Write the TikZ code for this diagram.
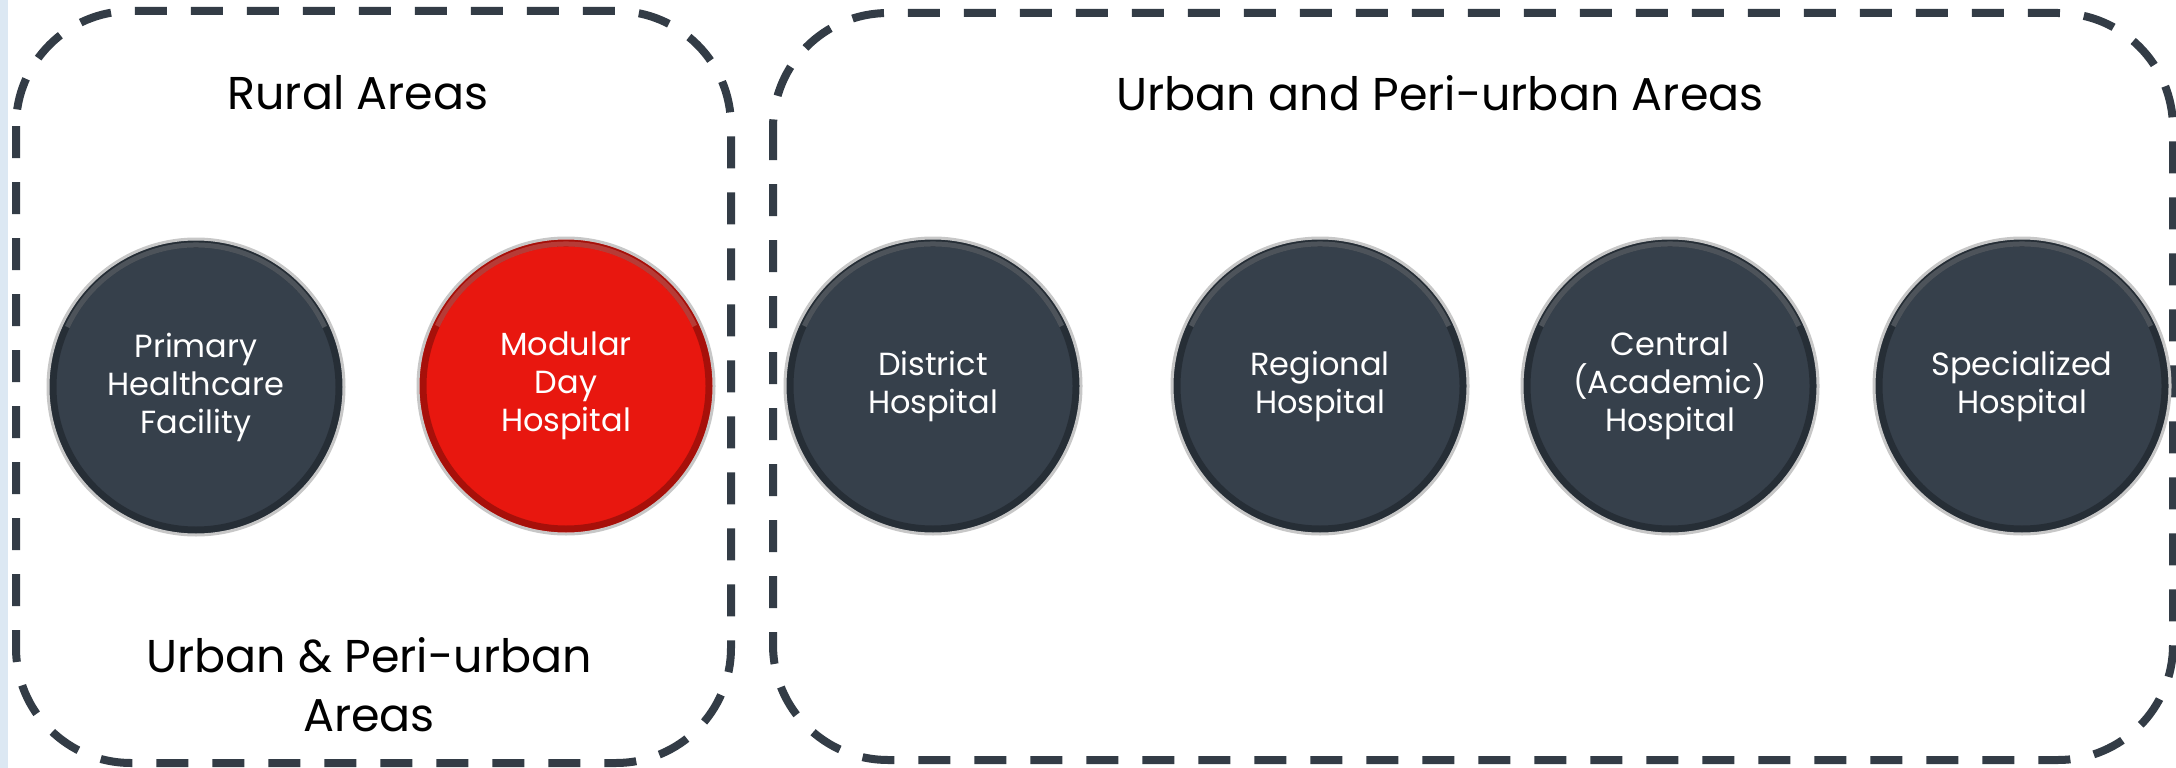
\documentclass[tikz,border=0pt]{standalone}
\usepackage{fontspec}
\setmainfont{Poppins}
\definecolor{darkball}{HTML}{36404B}
\definecolor{redball}{HTML}{E8170F}
\definecolor{dashcol}{HTML}{333C46}
\definecolor{edgeblue}{HTML}{DCE8F3}
\tikzset{
  zone/.style={draw=dashcol, line width=8pt, dash pattern=on 32pt off 24pt, rounded corners=115pt},
  ball/.style={circle, inner sep=0pt, minimum size=296pt, draw=black!22, line width=3pt,
    text=white, align=center, font=\fontsize{32}{38}\selectfont,
    path picture={
      \draw[line width=7pt, black, opacity=0.28] (path picture bounding box.center) circle (143pt);
      \draw[line width=5pt, white, opacity=0.18] (path picture bounding box.center) ++(25:142pt) arc (25:155:142pt);
    }},
  title/.style={font=\fontsize{46}{59}\selectfont, text=black, align=center}
}
\begin{document}
\begin{tikzpicture}[x=1pt, y=-1pt]
\useasboundingbox (0,0) rectangle (2176,768);
\fill[white] (0,0) rectangle (2176,768);
\fill[edgeblue] (0,0) rectangle (8,768);
% zones
\draw[zone] (16,11) rectangle (731,763);
\draw[zone] (773,13) rectangle (2173,760);
% titles
\node[title] (rural) at (358,93) {Rural Areas};
\node[title] (urbanperi) at (1440,93) {Urban and Peri-urban Areas};
\node[title] (urbanamp) at (369,685) {Urban \& Peri-urban\\Areas};
% balls
\node[ball, fill=darkball] (phc) at (196,387) {Primary\\Healthcare\\Facility};
\node[ball, fill=redball] (mdh) at (566,386) {Modular\\Day\\Hospital};
\node[ball, fill=darkball] (dh) at (933,386) {District\\Hospital};
\node[ball, fill=darkball] (rh) at (1320,386) {Regional\\Hospital};
\node[ball, fill=darkball] (ch) at (1670,386) {Central\\(Academic)\\Hospital};
\node[ball, fill=darkball] (sh) at (2022,386) {Specialized\\Hospital};
\end{tikzpicture}
\end{document}
